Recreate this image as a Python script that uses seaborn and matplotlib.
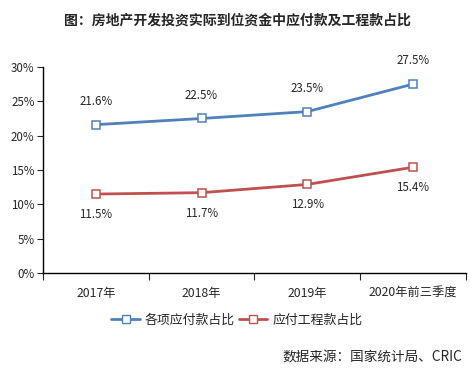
import numpy as np
import pandas as pd
import matplotlib.pyplot as plt
import seaborn as sns

years = ['2017年', '2018年', '2019年', '2020年前三季度']
total_share = [21.6, 22.5, 23.5, 27.5]
project_share = [11.5, 11.7, 12.9, 15.4]
series_names = ['各项应付款占比', '应付工程款占比']

sns.set_style('white')
plt.rcParams['font.family'] = ['Noto Sans CJK SC', 'DejaVu Sans']

df = pd.DataFrame({
    'year': years * 2,
    'value': total_share + project_share,
    'series': [series_names[0]] * 4 + [series_names[1]] * 4,
})

colors = ['#4F81BD', '#C0504D']

fig = plt.figure(figsize=(4.74, 3.72), dpi=100)
ax = fig.add_axes([0.0907, 0.266, 0.892, 0.554])

sns.lineplot(data=df, x='year', y='value', hue='series', palette=colors,
             marker='s', markersize=6, markerfacecolor='white', markeredgewidth=1.1,
             linewidth=2, ax=ax, legend=False)
for line, c in zip(ax.lines, colors):
    line.set_markeredgecolor(c)

ax.set_ylim(0, 30)
ax.set_xlim(-0.5, 3.5)
ax.set_yticks(range(0, 31, 5))
ax.set_yticklabels([f'{v}%' for v in range(0, 31, 5)], fontsize=8.3)
ax.set_xticks([-0.5, 0.5, 1.5, 2.5, 3.5])
ax.set_xticklabels([])
ax.tick_params(axis='x', length=5, direction='out', bottom=True)
ax.tick_params(axis='y', length=4, direction='out', left=True, pad=2)
for i, y in enumerate(years):
    ax.text(i, -2.0, y, ha='center', va='top', fontsize=8.8)
ax.set_xlabel('')
ax.set_ylabel('')
for s in ['top', 'right']:
    ax.spines[s].set_visible(False)
for s in ['left', 'bottom']:
    ax.spines[s].set_color('black')
    ax.spines[s].set_linewidth(1)

for i, v in enumerate(total_share):
    ax.annotate(f'{v}%', (i, v), xytext=(0, 12), textcoords='offset points',
                ha='center', va='bottom', fontsize=8.3)
for i, v in enumerate(project_share):
    ax.annotate(f'{v}%', (i, v), xytext=(0, -10), textcoords='offset points',
                ha='center', va='top', fontsize=8.3)

handles = [plt.Line2D([], [], color=c, linewidth=2, marker='s', markersize=6,
                      markerfacecolor='white', markeredgecolor=c) for c in colors]
fig.legend(handles, series_names, loc='center', bbox_to_anchor=(0.5, 0.14), ncol=2,
           frameon=False, fontsize=9.3, handlelength=2.2, columnspacing=0.3,
           handletextpad=0.4)

fig.text(0.5, 0.945, '图：房地产开发投资实际到位资金中应付款及工程款占比', ha='center',
         va='center', fontsize=10, fontweight='bold')
fig.text(0.975, 0.04, '数据来源：国家统计局、CRIC', ha='right', va='center', fontsize=9.8)

fig.savefig('out.png', dpi=100)
